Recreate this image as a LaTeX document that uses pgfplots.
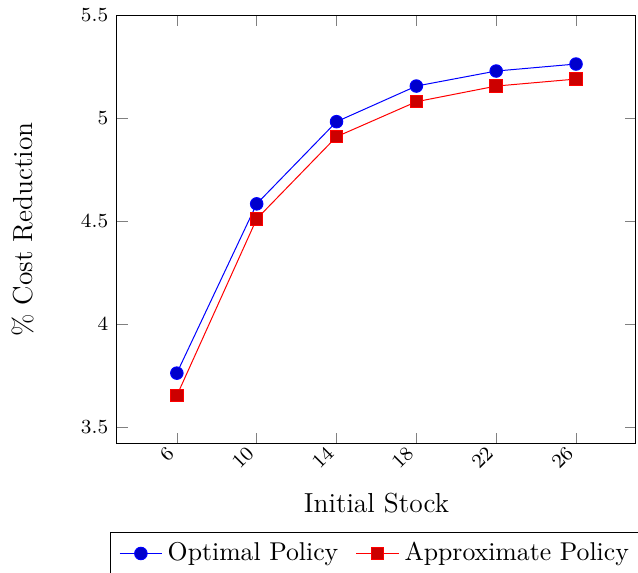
\documentclass[border=0pt]{standalone}
\usepackage{pgfplots}
\pgfplotsset{compat=1.18}
\begin{document}
\begin{tikzpicture}
\begin{axis}[
  width=207.6pt, height=171.6pt, scale only axis,
  xmin=3, xmax=29, ymin=3.417, ymax=5.5,
  xtick={6,10,14,18,22,26},
  ytick={3.5,4,4.5,5,5.5},
  yticklabel style={/pgf/number format/fixed},
  ticklabel style={font=\fontsize{8.5}{10}\selectfont},
  xticklabel style={rotate=45, anchor=east},
  label style={font=\fontsize{11}{13.5}\selectfont},
  xlabel={Initial Stock},
  ylabel={\% Cost Reduction},
  ylabel style={yshift=12pt},
  xlabel style={yshift=-1pt},
  legend columns=-1,
  legend style={at={(0.5,-0.205)}, anchor=north, font=\fontsize{10.3}{12.5}\selectfont,
    inner xsep=3.5pt,
    /tikz/every even column/.append style={column sep=5pt}},
  mark size=2.5pt,
]
\addplot coordinates {(6,3.761) (10,4.583) (14,4.982) (18,5.155) (22,5.228) (26,5.262)};
\addlegendentry{Optimal Policy}
\addplot coordinates {(6,3.652) (10,4.510) (14,4.909) (18,5.079) (22,5.155) (26,5.189)};
\addlegendentry{Approximate Policy}
\coordinate (bbsw) at (rel axis cs:-0.2254,-0.3007);
\coordinate (bbne) at (rel axis cs:1.004,1.035);
\end{axis}
\pgfresetboundingbox
\useasboundingbox (bbsw) rectangle (bbne);
\end{tikzpicture}
\end{document}
